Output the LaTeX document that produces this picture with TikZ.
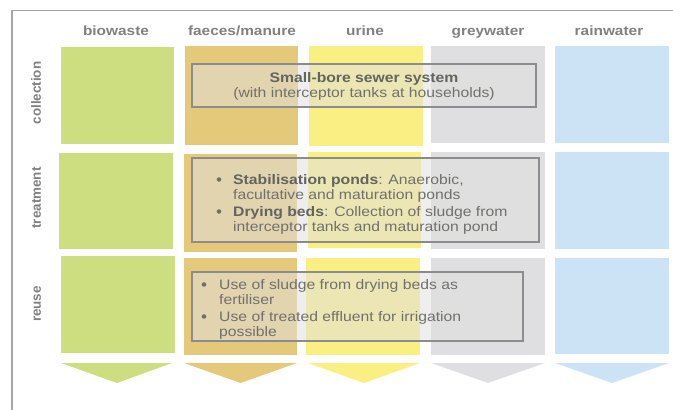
\documentclass[tikz,border=0pt]{standalone}
\usepackage{fontspec}
\setmainfont{Liberation Sans}
\newfontfamily\hfont[FakeStretch=1.15]{Liberation Sans}
\newfontfamily\bfont[FakeStretch=1.14]{Liberation Sans}
\definecolor{cbio}{RGB}{204,222,128}
\definecolor{cfae}{RGB}{229,201,123}
\definecolor{curi}{RGB}{249,239,130}
\definecolor{cgre}{RGB}{223,223,225}
\definecolor{crai}{RGB}{204,227,245}
\definecolor{frm}{RGB}{166,166,166}
\definecolor{hdr}{RGB}{128,128,128}
\definecolor{ovl}{RGB}{223,223,223}
\definecolor{ovlb}{RGB}{140,140,140}
\definecolor{txt}{RGB}{112,112,108}
\definecolor{txtb}{RGB}{100,100,94}
\tikzset{
  hdrtxt/.style={font=\hfont\bfseries\fontsize{13.4}{16}\selectfont, text=hdr, anchor=base, inner sep=0pt},
  rowtxt/.style={font=\bfseries\fontsize{13.4}{16}\selectfont, text=hdr, anchor=base, rotate=90, inner sep=0pt},
  ovbox/.style={draw=ovlb, line width=1.3pt, fill=ovl, fill opacity=0.53, draw opacity=1, anchor=north west, inner sep=0pt, outer sep=0pt},
  bodytxt/.style={font=\bfont\fontsize{13.8}{15}\selectfont, text=txt, inner sep=0pt},
  bul/.style={fill=txt, draw=none, circle, inner sep=0pt, minimum size=4.6pt},
  frameline/.style={draw=frm, line width=1.5pt}
}
\newcommand\bt[1]{\textcolor{txtb}{\textbf{#1}}}
\begin{document}
\begin{tikzpicture}[x=1pt,y=-1pt]
\useasboundingbox (0,0) rectangle (673,410);
% frame
\draw[frameline] (12,410) -- (12,10.5) -- (673,10.5);
% headers
\node[hdrtxt] (hbio) at (116,35) {biowaste};
\node[hdrtxt] (hfae) at (242,35) {faeces/manure};
\node[hdrtxt] (huri) at (365,35) {urine};
\node[hdrtxt] (hgre) at (488,35) {greywater};
\node[hdrtxt] (hrai) at (609,35) {rainwater};
% row labels
\node[rowtxt] (rcol) at (41,93) {collection};
\node[rowtxt] (rtre) at (41,198) {treatment};
\node[rowtxt] (rreu) at (41,304) {reuse};
% biowaste
\fill[cbio] (61,47) rectangle (174,144);
\fill[cbio] (59,153) rectangle (173,249);
\fill[cbio] (61,256) rectangle (175,353);
\fill[cbio] (61,363) -- (172,363) -- (117,383) -- cycle;
% faeces
\fill[cfae] (185,46) rectangle (298,145);
\fill[cfae] (184,154) rectangle (297,252);
\fill[cfae] (184,258) rectangle (297,355);
\fill[cfae] (184,363) -- (297,363) -- (240.5,383) -- cycle;
% urine
\fill[curi] (309,46) rectangle (423,146);
\fill[curi] (308,152) rectangle (421,248);
\fill[curi] (306,258) rectangle (420,355);
\fill[curi] (308,363) -- (420,363) -- (364,383) -- cycle;
% greywater
\fill[cgre] (431,46) rectangle (545,143);
\fill[cgre] (431,152) rectangle (545,249);
\fill[cgre] (431,258) rectangle (545,355);
\fill[cgre] (431,363) -- (545,363) -- (488,383) -- cycle;
% rainwater
\fill[crai] (555,46) rectangle (669,143);
\fill[crai] (555,152) rectangle (669,249);
\fill[crai] (555,258) rectangle (669,354);
\fill[crai] (555,363) -- (669,363) -- (612,383) -- cycle;
% overlay boxes
\node[ovbox, minimum width=344pt, minimum height=43pt] (bcol) at (192,64) {};
\node[ovbox, minimum width=347pt, minimum height=84pt] (btre) at (192,158) {};
\node[ovbox, minimum width=331pt, minimum height=69pt] (breu) at (192,272) {};
% collection text
\node[bodytxt, anchor=base] (c1) at (364,82) {\bt{Small-bore sewer system}};
\node[bodytxt, anchor=base] (c2) at (364,97) {(with interceptor tanks at households)};
% treatment text
\node[bul] (tb1) at (219,179.5) {};
\node[bodytxt, anchor=base west] (t1) at (233,184) {\bt{Stabilisation ponds}: Anaerobic,};
\node[bodytxt, anchor=base west] (t2) at (233,199) {facultative and maturation ponds};
\node[bul] (tb2) at (219,211.5) {};
\node[bodytxt, anchor=base west] (t3) at (233,216) {\bt{Drying beds}: Collection of sludge from};
\node[bodytxt, anchor=base west] (t4) at (233,231) {interceptor tanks and maturation pond};
% reuse text
\node[bul] (ub1) at (204,284.5) {};
\node[bodytxt, anchor=base west] (u1) at (219,289) {Use of sludge from drying beds as};
\node[bodytxt, anchor=base west] (u2) at (219,304) {fertiliser};
\node[bul] (ub2) at (204,316.5) {};
\node[bodytxt, anchor=base west] (u3) at (219,321) {Use of treated effluent for irrigation};
\node[bodytxt, anchor=base west] (u4) at (219,336) {possible};
\end{tikzpicture}
\end{document}
